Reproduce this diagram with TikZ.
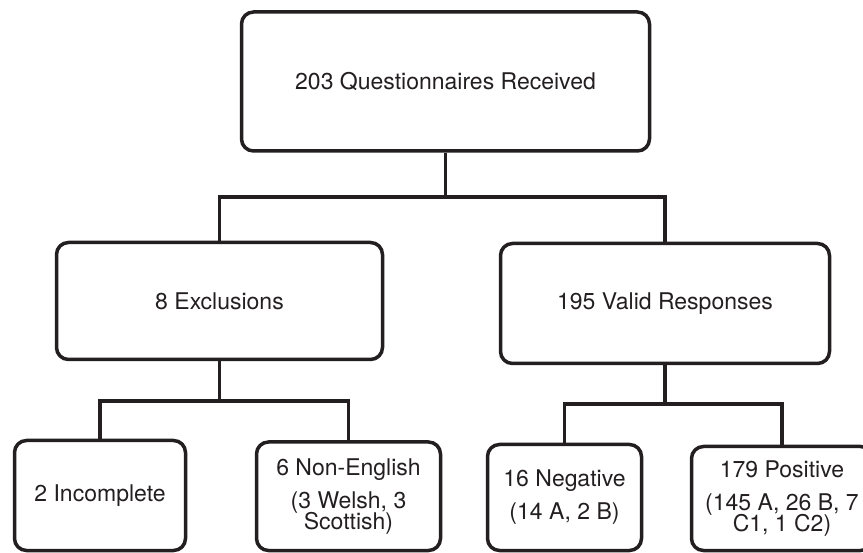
\documentclass[tikz,border=0pt]{standalone}
\usepackage{fontspec}
\setmainfont{TeX Gyre Heros}
\definecolor{ink}{HTML}{231F20}
\begin{document}
\begin{tikzpicture}[x=1pt,y=-1pt,
  box/.style={draw=ink, line width=3.5pt, rounded corners=12pt, align=center,
    text=ink, inner sep=0pt, font={\fontsize{23}{21}\selectfont\lineskiplimit=-100pt}},
  link/.style={draw=ink, line width=3.5pt}]
\useasboundingbox (0,0) rectangle (863,553);
\clip (0,0) rectangle (863,553);
\node[box, minimum width=408pt, minimum height=139pt] (top) at (445.5,81.5) {203 Questionnaires Received};
\node[box, minimum width=326pt, minimum height=117pt] (ml) at (219.5,301) {8 Exclusions};
\node[box, minimum width=329pt, minimum height=120pt] (mr) at (665,303.5) {195 Valid Responses};
\node[box, minimum width=171pt, minimum height=110pt] (inc) at (100,495.5) {2 Incomplete};
\node[box, minimum width=184pt, minimum height=108.5pt] (nen) at (348.5,496.25) {6 Non-English\\[12pt](3 Welsh, 3\\Scottish)};
\node[box, minimum width=154pt, minimum height=106pt] (neg) at (564.5,497.5) {16 Negative\\[12pt](14 A, 2 B)};
\node[box, minimum width=181pt, minimum height=104pt] (pos) at (782,498.5) {179 Positive\\[12pt](145 A, 26 B, 7\\C1, 1 C2)};
\coordinate (j1) at (445.5,197);
\coordinate (j2) at (219.5,401);
\coordinate (j3) at (665,404);
\draw[link] (top.south) -- (j1);
\draw[link] (ml.north) |- (j1) -| (mr.north);
\draw[link] (ml.south) -- (j2);
\draw[link] (inc.north) |- (j2) -| (nen.north);
\draw[link] (mr.south) -- (j3);
\draw[link] (neg.north) |- (j3) -| (pos.north);
\end{tikzpicture}
\end{document}
